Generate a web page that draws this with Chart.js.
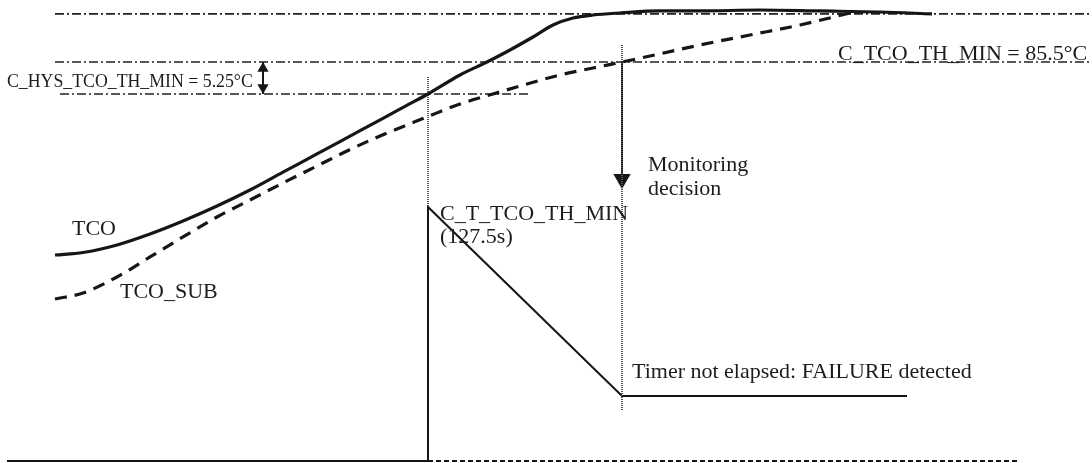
<!DOCTYPE html>
<html>
<head>
<meta charset="utf-8">
<title>TCO minimum threshold monitoring</title>
<script src="https://cdn.jsdelivr.net/npm/chart.js@4/dist/chart.umd.min.js"></script>
<style>
  html, body { margin: 0; padding: 0; background: #ffffff; }
  #wrap { width: 1092px; height: 463px; }
</style>
</head>
<body>
<div id="wrap"><canvas id="chart" width="1092" height="463"></canvas></div>
<script>
// Time axis in seconds, temperature in °C, timer in seconds
const timeTco = [27.5, 41.5, 58.5, 75, 91.5, 108.5, 125, 141.5, 158.5, 175, 191.5, 202.5, 214, 230, 243.5, 255, 266.5, 276.5, 286.5, 296.5, 310, 330, 350, 380, 410, 440, 466];
const tempTco = [53.83, 54.24, 55.48, 57.28, 59.41, 61.87, 64.50, 67.42, 70.42, 73.34, 76.26, 78.22, 80.25, 83.37, 85.5, 87.47, 89.60, 91.57, 92.72, 93.21, 93.54, 93.87, 93.87, 94.03, 93.87, 93.70, 93.38];

const timeSub = [27.5, 41.5, 58.5, 75, 91.5, 108.5, 125, 141.5, 158.5, 173.5, 190, 213.5, 230, 246.5, 263.5, 280, 296.5, 311, 325, 350, 375, 400, 425];
const tempSub = [46.62, 47.60, 50.23, 53.51, 56.79, 60.07, 62.86, 65.65, 68.44, 70.90, 73.36, 76.48, 78.61, 80.25, 81.89, 83.37, 84.52, 85.5, 86.48, 88.29, 89.93, 91.57, 93.54];

// Thresholds (°C)
const maxTemp = 93.4;
const thMin = 85.5;
const hysTh = 5.25;

// Timer C_T_TCO_TH_MIN (s)
const timerTimes = [3.5, 214, 214, 311, 453.5];
const timerValues = [0, 0, 127.5, 32.6, 32.6];
const timerIdleTimes = [214, 510];
const timerIdleValues = [0, 0];

const timerStart = 214;      // TCO crosses thMin - hysTh
const decisionTime = 311;    // TCO_SUB crosses thMin

const pts = (xs, ys) => xs.map((x, i) => ({ x: x, y: ys[i] }));

const ink = '#161616';
const dashDot = [9, 3, 2, 3];

const datasets = [
  { label: 'TCO', data: pts(timeTco, tempTco), borderColor: ink, borderWidth: 3.2,
    cubicInterpolationMode: 'monotone', pointRadius: 0, yAxisID: 'y' },
  { label: 'TCO_SUB', data: pts(timeSub, tempSub), borderColor: ink, borderWidth: 3.2,
    borderDash: [12, 8], cubicInterpolationMode: 'monotone', pointRadius: 0, yAxisID: 'y' },
  // reference levels
  { data: pts([27.5, 546], [maxTemp, maxTemp]), borderColor: '#222', borderWidth: 1.6,
    borderDash: dashDot, pointRadius: 0, yAxisID: 'y' },
  { data: pts([27.5, 546], [thMin, thMin]), borderColor: '#222', borderWidth: 1.6,
    borderDash: dashDot, pointRadius: 0, yAxisID: 'y' },
  { data: pts([30, 264], [thMin - hysTh, thMin - hysTh]), borderColor: '#222', borderWidth: 1.6,
    borderDash: dashDot, pointRadius: 0, yAxisID: 'y' },
  // event markers
  { data: pts([timerStart, timerStart], [83.04, 61.7]), borderColor: '#555', borderWidth: 2,
    borderDash: [1, 1], pointRadius: 0, yAxisID: 'y' },
  { data: pts([decisionTime, decisionTime], [88.3, 28.4]), borderColor: '#555', borderWidth: 2,
    borderDash: [1, 1], pointRadius: 0, yAxisID: 'y' },
  // timer
  { data: pts(timerTimes, timerValues), borderColor: ink, borderWidth: 2,
    pointRadius: 0, yAxisID: 'timer' },
  { data: pts(timerIdleTimes, timerIdleValues), borderColor: ink, borderWidth: 2,
    borderDash: [5, 3], pointRadius: 0, yAxisID: 'timer' },
  // monitoring decision arrow
  { data: pts([decisionTime, decisionTime], [thMin, 66.3]), borderColor: ink, borderWidth: 2,
    backgroundColor: ink, pointBackgroundColor: ink, pointBorderColor: ink,
    pointStyle: 'triangle', pointRadius: [0, 10], pointRotation: [0, 180], pointBorderWidth: 0,
    yAxisID: 'y' },
  // hysteresis double arrow
  { data: pts([131.5, 131.5, 131.5, 131.5], [thMin, 84.43, 81.32, thMin - hysTh]), borderColor: ink, borderWidth: 2,
    pointBackgroundColor: ink, pointBorderColor: ink,
    pointStyle: 'triangle', pointRadius: [0, 6.5, 6.5, 0], pointRotation: [0, 0, 180, 0], pointBorderWidth: 0,
    yAxisID: 'y' }
];

// Text annotations anchored in data units
const labels = [
  { text: 'C_TCO_TH_MIN = 85.5°C', x: 419, y: 85.83, axis: 'y', size: 22 },
  { text: 'C_HYS_TCO_TH_MIN = 5.25°C', x: 3.5, y: 81.4, axis: 'y', size: 17.8 },
  { text: 'Monitoring', x: 324, y: 67.62, axis: 'y', size: 22 },
  { text: 'decision', x: 324, y: 63.68, axis: 'y', size: 22 },
  { text: 'C_T_TCO_TH_MIN', x: 220, y: 121.0, axis: 'timer', size: 22 },
  { text: '(127.5s)', x: 220, y: 109.4, axis: 'timer', size: 22 },
  { text: 'TCO', x: 36, y: 57.12, axis: 'y', size: 22 },
  { text: 'TCO_SUB', x: 60, y: 46.78, axis: 'y', size: 22 },
  { text: 'Timer not elapsed: FAILURE detected', x: 316, y: 41.7, axis: 'timer', size: 22 }
];

const textPlugin = {
  id: 'diagramText',
  afterDatasetsDraw(chart) {
    const ctx = chart.ctx;
    ctx.save();
    ctx.fillStyle = '#1c1c1c';
    ctx.textAlign = 'left';
    ctx.textBaseline = 'alphabetic';
    labels.forEach(l => {
      ctx.font = l.size + 'px "Liberation Serif", "Times New Roman", serif';
      const px = chart.scales.x.getPixelForValue(l.x);
      const py = chart.scales[l.axis].getPixelForValue(l.y);
      ctx.fillText(l.text, px, py);
    });
    ctx.restore();
  }
};

new Chart(document.getElementById('chart'), {
  type: 'line',
  data: { datasets: datasets },
  options: {
    responsive: false,
    animation: false,
    devicePixelRatio: 1,
    layout: { padding: 0, autoPadding: false },
    plugins: { legend: { display: false }, tooltip: { enabled: false } },
    elements: { line: { borderCapStyle: 'butt', fill: false } },
    scales: {
      x: { type: 'linear', min: 0, max: 546, display: false },
      y: { type: 'linear', min: 19.71, max: 95.67, display: false },
      timer: { type: 'linear', min: -1.0, max: 231.4, display: false }
    }
  },
  plugins: [textPlugin]
});
</script>
</body>
</html>
